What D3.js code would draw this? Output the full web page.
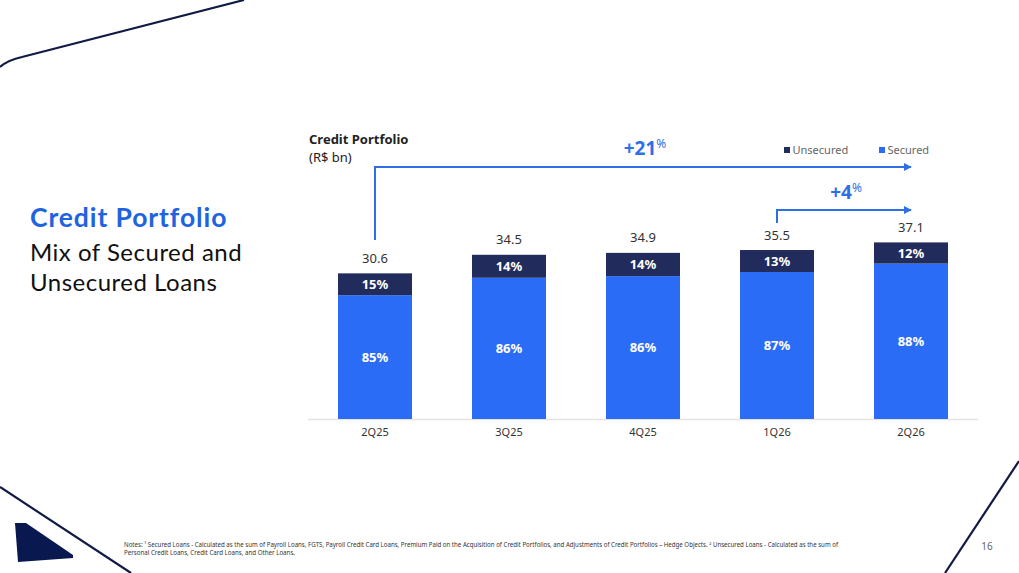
<!DOCTYPE html>
<html><head><meta charset="utf-8">
<script src="https://cdn.jsdelivr.net/npm/d3@7/dist/d3.min.js"></script>
<style>
html,body{margin:0;padding:0;background:#fff;}
svg{display:block;font-family:"Noto Sans",sans-serif;}
</style></head>
<body>
<svg id="c" width="1019" height="573"></svg>
<script>
const categories = ["2Q25","3Q25","4Q25","1Q26","2Q26"];
const totals = [30.6,34.5,34.9,35.5,37.1];
const securedPct = [85,86,86,87,88];
const unsecuredPct = [15,14,14,13,12];
const seriesNames = ["Unsecured","Secured"];
const growthLabels = [{big:"+21",from:0,to:4},{big:"+4",from:3,to:4}];

const svg = d3.select("#c");
const navy = "#0f1a45";
const blue = "#2b6cf6";
const dark = "#212b5c";
const accent = "#2f6fe6";

// decorative lines
svg.append("path").attr("d","M0,67 Q8,60 22,57 L244,0").attr("fill","none").attr("stroke",navy).attr("stroke-width",2.2);
svg.append("path").attr("d","M0,487 L131,573").attr("fill","none").attr("stroke",navy).attr("stroke-width",2.2);
svg.append("path").attr("d","M15,523 L26,523 L73,555 L73,558 L18,562 Z").attr("fill","#0a1850");
svg.append("path").attr("d","M1019,461 L945,573").attr("fill","none").attr("stroke",navy).attr("stroke-width",2.2);

// left titles
svg.append("text").attr("x",30).attr("y",227).attr("font-family","Lato, sans-serif").attr("font-weight",700).attr("font-size",26.5).attr("letter-spacing",0.9).attr("fill","#1e63e0").text("Credit Portfolio");
svg.append("text").attr("x",30).attr("y",261).attr("font-family","Lato, sans-serif").attr("font-size",24).attr("letter-spacing",0.5).attr("fill","#111").text("Mix of Secured and");
svg.append("text").attr("x",30).attr("y",291).attr("font-family","Lato, sans-serif").attr("font-size",24).attr("letter-spacing",0.5).attr("fill","#111").text("Unsecured Loans");

// chart title
svg.append("text").attr("x",309).attr("y",144).attr("font-weight",700).attr("font-size",13).attr("fill","#222").text("Credit Portfolio");
svg.append("text").attr("x",309).attr("y",162).attr("font-size",13).attr("fill","#222").text("(R$ bn)");

// scales
const x = d3.scaleBand().domain(categories).range([308,978]).paddingInner(0.448).paddingOuter(0.224);
const y = d3.scaleLinear().domain([0,40]).range([419,228.6]);
const cx = c => x(c) + x.bandwidth()/2;

// baseline axis
const axis = svg.append("g").attr("transform","translate(0,419.5)").call(d3.axisBottom(x).tickSize(0).tickPadding(9));
axis.select(".domain").attr("stroke","#e4e4e4").attr("stroke-width",1.5).attr("d","M308,0H978");
axis.selectAll("text").attr("font-family","Noto Sans, sans-serif").attr("font-size",11).attr("fill","#333");

const rows = categories.map((c,i)=>({c, total: totals[i], s: totals[i]*securedPct[i]/100, u: totals[i]*unsecuredPct[i]/100, sp: securedPct[i], up: unsecuredPct[i]}));

const g = svg.append("g");
// secured
g.selectAll("rect.sec").data(rows).join("rect").attr("class","sec")
  .attr("x",d=>x(d.c)).attr("width",x.bandwidth())
  .attr("y",d=>y(d.s)).attr("height",d=>y(0)-y(d.s)).attr("fill",blue);
// unsecured
g.selectAll("rect.uns").data(rows).join("rect").attr("class","uns")
  .attr("x",d=>x(d.c)).attr("width",x.bandwidth())
  .attr("y",d=>y(d.total)).attr("height",d=>y(d.s)-y(d.total)).attr("fill",dark);
// labels
g.selectAll("text.sl").data(rows).join("text").attr("class","sl")
  .attr("x",d=>cx(d.c)).attr("y",d=>(y(d.s)+y(0))/2).attr("dy","0.35em").attr("text-anchor","middle")
  .attr("font-weight",700).attr("font-size",13).attr("fill","#fff").text(d=>d.sp+"%");
g.selectAll("text.ul").data(rows).join("text").attr("class","ul")
  .attr("x",d=>cx(d.c)).attr("y",d=>(y(d.s)+y(d.total))/2).attr("dy","0.35em").attr("text-anchor","middle")
  .attr("font-weight",700).attr("font-size",13).attr("fill","#fff").text(d=>d.up+"%");
g.selectAll("text.tl").data(rows).join("text").attr("class","tl")
  .attr("x",d=>cx(d.c)).attr("y",d=>y(d.total)-15).attr("dy","0.35em").attr("text-anchor","middle")
  .attr("font-size",13).attr("fill","#333").text(d=>d.total.toFixed(1));

// legend
const leg = [{n:seriesNames[0],c:dark,x:784},{n:seriesNames[1],c:blue,x:879}];
leg.forEach(l=>{
  svg.append("rect").attr("x",l.x).attr("y",147).attr("width",6).attr("height",6).attr("fill",l.c);
  svg.append("text").attr("x",l.x+8.5).attr("y",150).attr("dy","0.35em").attr("font-size",11).attr("fill","#666").text(l.n);
});

// growth arrows
svg.append("defs").append("marker").attr("id","ah").attr("viewBox","0 0 10 10").attr("refX",9).attr("refY",5)
  .attr("markerWidth",8).attr("markerHeight",8).attr("markerUnits","userSpaceOnUse").attr("orient","auto")
  .append("path").attr("d","M0,0 L10,5 L0,10 Z").attr("fill",accent);

function arrow(fromCat, toCat, yBottom, yTop){
  const x0 = cx(fromCat), x1 = cx(toCat);
  svg.append("path").attr("d",`M${x0},${yBottom} V${yTop} H${x1}`).attr("fill","none")
    .attr("stroke",accent).attr("stroke-width",2).attr("marker-end","url(#ah)");
}
arrow(categories[growthLabels[0].from], categories[growthLabels[0].to], 240, 167);
arrow(categories[growthLabels[1].from], categories[growthLabels[1].to], 223, 210);

function growthText(xc, yc, big){
  const t = svg.append("text").attr("x",xc).attr("y",yc).attr("text-anchor","middle").attr("fill",accent);
  t.append("tspan").attr("font-weight",700).attr("font-size",19).text(big);
  t.append("tspan").attr("font-size",12).attr("dy",-7).text("%");
}
growthText(645, 155, growthLabels[0].big);
growthText(846, 199, growthLabels[1].big);

// notes
const notes = svg.append("g").attr("font-family","Noto Sans, sans-serif").attr("font-size",6.3).attr("fill","#333");
notes.append("text").attr("x",124).attr("y",547).attr("textLength",714).attr("lengthAdjust","spacingAndGlyphs")
  .text("Notes: ¹ Secured Loans - Calculated as the sum of Payroll Loans, FGTS, Payroll Credit Card Loans, Premium Paid on the Acquisition of Credit Portfolios, and Adjustments of Credit Portfolios – Hedge Objects. ² Unsecured Loans - Calculated as the sum of");
notes.append("text").attr("x",124).attr("y",555).attr("textLength",171).attr("lengthAdjust","spacingAndGlyphs")
  .text("Personal Credit Loans, Credit Card Loans, and Other Loans.");

svg.append("text").attr("x",987).attr("y",550).attr("text-anchor","middle").attr("font-size",10).attr("fill","#666").text("16");
</script>
</body></html>
